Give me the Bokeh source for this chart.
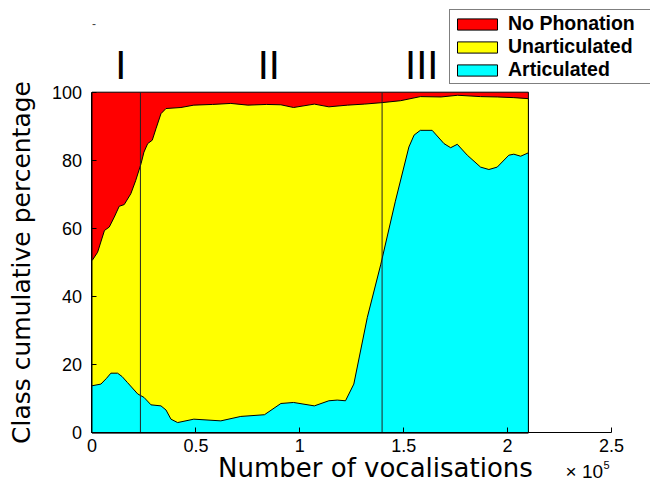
from bokeh.plotting import figure
from bokeh.models import Range1d, FixedTicker, Legend, LegendItem, Label
from bokeh.core.properties import value
from bokeh.embed import file_html
from bokeh.resources import INLINE

# ---- data (x in units of 10^5 vocalisations, y in cumulative %) ----
total_x = [0.0, 2.10]
total_y = [100.0, 100.0]

unart_x = [0.0, 0.027, 0.06, 0.083, 0.107, 0.131, 0.155, 0.187, 0.21, 0.236, 0.25,
           0.268, 0.29, 0.308, 0.332, 0.356, 0.428, 0.49, 0.58, 0.668, 0.75, 0.84,
           0.909, 0.97, 1.07, 1.14, 1.23, 1.31, 1.39, 1.485, 1.58, 1.68, 1.76, 1.87,
           1.95, 2.03, 2.10]
unart_y = [50.5, 53.0, 59.4, 60.4, 63.3, 66.5, 67.0, 70.2, 74.0, 79.0, 82.4,
           84.9, 85.9, 89.3, 93.7, 95.2, 95.5, 96.2, 96.4, 96.7, 96.2, 96.4,
           96.3, 95.5, 96.5, 95.7, 96.2, 96.5, 96.9, 97.5, 98.7, 98.6, 99.1, 98.7,
           98.6, 98.4, 98.1]

art_x = [0.0, 0.043, 0.07, 0.091, 0.123, 0.145, 0.17, 0.22, 0.25, 0.284, 0.332,
         0.356, 0.38, 0.412, 0.49, 0.62, 0.716, 0.83, 0.909, 0.97, 1.07, 1.14,
         1.18, 1.22, 1.26, 1.325, 1.39, 1.46, 1.525, 1.55, 1.58, 1.637, 1.694,
         1.726, 1.758, 1.806, 1.87, 1.91, 1.95, 2.006, 2.03, 2.063, 2.10]
art_y = [13.8, 14.3, 16.0, 17.5, 17.5, 16.5, 14.8, 11.4, 10.4, 8.2, 7.9,
         6.7, 4.0, 3.0, 4.0, 3.5, 4.8, 5.3, 8.6, 8.9, 7.9, 9.4,
         9.6, 9.4, 14.3, 33.9, 49.5, 68.0, 83.9, 87.4, 88.8, 88.8, 84.9,
         83.7, 84.7, 81.5, 78.0, 77.3, 78.0, 81.5, 81.8, 81.2, 82.2]

phase_bounds = [0.233, 1.396]
phase_x = [0.139, 0.851, 1.587]
phase_labels = ["I", "II", "III"]

x_ticks = [0, 0.5, 1, 1.5, 2, 2.5]
x_tick_labels = ["0", "0.5", "1", "1.5", "2", "2.5"]
y_ticks = [0, 20, 40, 60, 80, 100]

series_names = ["No Phonation", "Unarticulated", "Articulated"]
series_colors = ["#ff0000", "#ffff00", "#00ffff"]

# ---- figure: the frame fills the canvas, axes are pinned at x=0 / y=0 ----
p = figure(width=650, height=483, output_backend="svg", toolbar_location=None,
           x_range=Range1d(-0.4403, 2.6877), y_range=Range1d(-14.89, 126.92),
           min_border=0, min_border_left=0, min_border_right=0,
           min_border_top=0, min_border_bottom=0)
p.outline_line_color = None
p.xgrid.visible = False
p.ygrid.visible = False
p.background_fill_color = "white"
p.border_fill_color = "white"


def closed(xs, ys):
    return [xs[0]] + list(xs) + [xs[-1]], [0.0] + list(ys) + [0.0]


renderers = []
for (xs, ys), col in zip([(total_x, total_y), (unart_x, unart_y), (art_x, art_y)],
                         series_colors):
    px, py = closed(xs, ys)
    r = p.patch(px, py, fill_color=col, line_color="black", line_width=1)
    renderers.append(r)

# phase boundaries
p.segment(x0=phase_bounds, y0=[0] * len(phase_bounds), x1=phase_bounds,
          y1=[100] * len(phase_bounds), line_color="#222222", line_width=1)

# phase numerals
p.text(x=phase_x, y=[108.0] * len(phase_x), text=phase_labels,
       text_font=value("Liberation Sans"), text_font_size="40px",
       text_align="center", text_baseline="alphabetic", text_color="black")

# axes
for ax in (p.xaxis[0], p.yaxis[0]):
    ax.fixed_location = 0
    ax.axis_line_color = "black"
    ax.major_tick_line_color = "black"
    ax.major_tick_in = 5
    ax.major_tick_out = 0
    ax.minor_tick_line_color = None
    ax.major_label_text_font = "Liberation Sans"
    ax.major_label_text_font_size = "18px"
    ax.major_label_text_color = "black"

p.xaxis[0].ticker = FixedTicker(ticks=x_ticks)
p.xaxis[0].major_label_overrides = {t: l for t, l in zip(x_ticks, x_tick_labels)}
p.xaxis[0].bounds = (0, 2.5)
p.xaxis[0].major_label_standoff = 6

p.yaxis[0].ticker = FixedTicker(ticks=y_ticks)
p.yaxis[0].bounds = (0, 100)
p.yaxis[0].major_label_standoff = 10
p.yaxis[0].axis_label = "Class cumulative percentage"
p.yaxis[0].axis_label_text_font = "DejaVu Sans"
p.yaxis[0].axis_label_text_font_size = "25px"
p.yaxis[0].axis_label_text_font_style = "normal"
p.yaxis[0].axis_label_standoff = 12
p.yaxis[0].axis_label_text_color = "black"

# x axis title and multiplier
p.add_layout(Label(x=1.364, y=-10.4, text="Number of vocalisations",
                   text_font="DejaVu Sans", text_font_size="26px",
                   text_align="center", text_baseline="alphabetic",
                   text_color="black"))
p.add_layout(Label(x=2.279, y=-11.4, text="\u00d7 10",
                   text_font="Liberation Sans", text_font_size="19px",
                   text_align="left", text_baseline="alphabetic",
                   text_color="black"))
p.add_layout(Label(x=2.462, y=-9.6, text="5",
                   text_font="Liberation Sans", text_font_size="11px",
                   text_align="left", text_baseline="alphabetic",
                   text_color="black"))
p.add_layout(Label(x=0.0, y=120.1, text="-",
                   text_font="Liberation Sans", text_font_size="12px",
                   text_align="left", text_baseline="middle",
                   text_color="#444444"))

# legend
legend = Legend(items=[LegendItem(label=n, renderers=[r])
                       for n, r in zip(series_names, renderers)],
                location=(449, 399), orientation="vertical",
                label_text_font="Liberation Sans", label_text_font_style="bold",
                label_text_font_size="19.5px", label_text_color="black",
                glyph_width=50, glyph_height=14, label_standoff=6,
                label_width=145, padding=2, spacing=0, margin=0,
                border_line_color="black", border_line_width=1,
                background_fill_color="white", background_fill_alpha=1.0)
p.add_layout(legend)

open("out.html", "w").write(file_html(p, INLINE))
